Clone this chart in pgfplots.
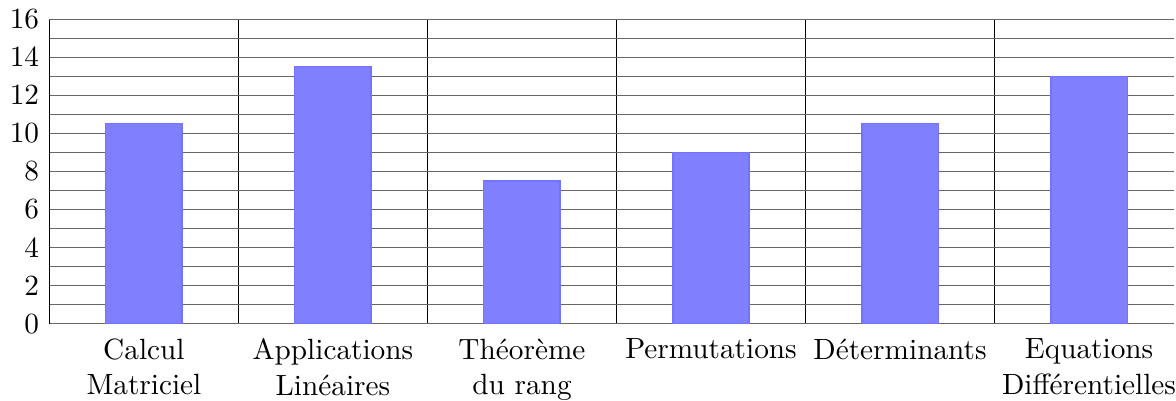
\documentclass[border=0pt]{standalone}
\usepackage{pgfplots}
\pgfplotsset{compat=1.18}
\begin{document}
\begin{tikzpicture}
\begin{axis}[
  scale only axis,
  width=384pt, height=104pt,
  xmin=-0.5, xmax=5.449,
  ymin=0, ymax=16,
  axis lines*=left,
  x axis line style={black!60, -},
  y axis line style={black, -},
  major tick length=0pt, minor tick length=0pt,
  xtick={0,1,2,3,4,5},
  xticklabels={Calcul\\Matriciel, Applications\\Lin\'eaires, Th\'eor\`eme\\du rang, Permutations, D\'eterminants, Equations\\Diff\'erentielles},
  xticklabel style={align=center, inner sep=0pt, yshift=-5pt},
  minor xtick={0.5,1.5,2.5,3.5,4.5},
  xminorgrids, minor x grid style={black, thin},
  ytick={0,2,...,14},
  minor ytick={1,3,...,15},
  ymajorgrids, yminorgrids,
  major y grid style={black!60, thin},
  minor y grid style={black!60, thin},
  extra y ticks={16},
  extra y tick style={grid=major, major grid style={black, thin}},
  ybar, bar width=26pt,
]
\addplot[fill=blue!50, draw=blue!55] coordinates {(0,10.5) (1,13.5) (2,7.5) (3,9) (4,10.5) (5,13)};
\end{axis}
\end{tikzpicture}
\end{document}
